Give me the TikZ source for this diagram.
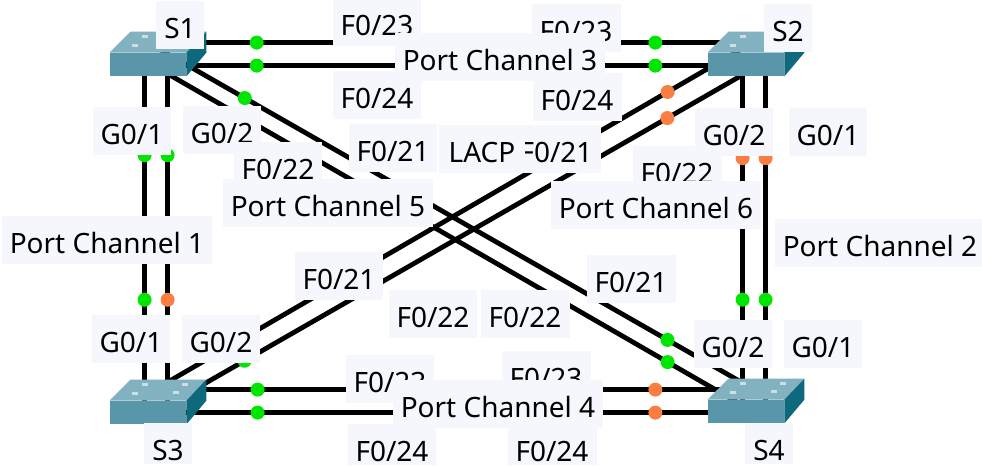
\documentclass[tikz,border=0pt]{standalone}
\usepackage{fontspec}
\setmainfont{Noto Sans}
\usepackage{tikz}
\usetikzlibrary{calc,backgrounds}
\definecolor{labelbg}{RGB}{245,247,253}
\definecolor{swfront}{RGB}{90,150,170}
\definecolor{swtop}{RGB}{130,178,192}
\definecolor{swside}{RGB}{15,105,125}
\definecolor{swmark}{RGB}{205,222,230}
\definecolor{linkup}{RGB}{0,230,0}
\definecolor{linkwait}{RGB}{250,125,65}
\tikzstyle{switch} = [rectangle, fill=swfront, minimum width=38pt,
    minimum height=11.5pt, inner sep=0pt]
\tikzstyle{portlabel} = [rectangle, fill=labelbg, inner xsep=4pt, inner ysep=1.5pt,
    text height=17pt, text depth=4pt, anchor=base, font=\fontsize{14pt}{16pt}\selectfont]
\tikzstyle{bottomlabel} = [portlabel, text depth=0.5pt]
\tikzstyle{link} = [draw, line width=2.4pt]
\tikzstyle{ledgreen} = [circle, fill=linkup, inner sep=0pt, minimum size=7pt]
\tikzstyle{ledorange} = [circle, fill=linkwait, inner sep=0pt, minimum size=7pt]

\begin{document}
\begin{tikzpicture}[x=0.5pt, y=-0.5pt]
    \useasboundingbox (0,0) rectangle (982,467);
    % Place switches
    \node [switch] (S1) at (148,64.5) {};
    \node [switch] (S2) at (746,64.5) {};
    \node [switch] (S3) at (148,412.5) {};
    \node [switch] (S4) at (746,411.5) {};
    \foreach \sw in {S1,S2,S3,S4} {
        \fill [swtop] (\sw.north west) -- (\sw.north east) -- ++(20,-21) -- ++(-76,0) -- cycle;
        \fill [swside] (\sw.north east) -- ++(20,-21) -- ++(0,21) -- (\sw.south east) -- cycle;
        \foreach \dx/\dy in {22/-6, 32/-15, 63/-7, 72/-15}
            \fill [swmark] ($(\sw.north west)+(\dx,\dy)$) rectangle ++(6,-3);
    }
    % Draw links
    \begin{pgfonlayer}{background}
    \fill [white] (0,0) rectangle (982,467);
    % port channel 1 and 2
    \path [link] ($(S1.south west)+(35,0)$) -- node [ledgreen, pos=0.243] (g1a) {}
        node [ledgreen, pos=0.689] (g1b) {} ($(S3.north west)+(35,0)$);
    \path [link] ($(S1.south west)+(58,0)$) -- node [ledgreen, pos=0.243] (g1c) {}
        node [ledorange, pos=0.689] (g1d) {} ($(S3.north west)+(58,0)$);
    \path [link] ($(S2.south west)+(35,0)$) -- node [ledorange, pos=0.253] (g2a) {}
        node [ledgreen, pos=0.691] (g2b) {} ($(S4.north west)+(35,0)$);
    \path [link] ($(S2.south west)+(58,0)$) -- node [ledorange, pos=0.253] (g2c) {}
        node [ledgreen, pos=0.691] (g2d) {} ($(S4.north west)+(58,0)$);
    % port channel 3 and 4
    \path [link] ($(S1.north west)+(40,-10)$) -- node [ledgreen, pos=0.18] (f3a) {}
        node [ledgreen, pos=0.85] (f3b) {} ($(S2.north west)+(37,-10)$);
    \path [link] ($(S1.north west)+(40,13)$) -- node [ledgreen, pos=0.18] (f3c) {}
        node [ledgreen, pos=0.85] (f3d) {} ($(S2.north west)+(37,13)$);
    \path [link] ($(S3.north west)+(40,-11)$) -- node [ledgreen, pos=0.1815] (f4a) {}
        node [ledorange, pos=0.85] (f4b) {} ($(S4.north west)+(37,-10)$);
    \path [link] ($(S3.north west)+(40,12)$) -- node [ledgreen, pos=0.1815] (f4c) {}
        node [ledorange, pos=0.85] (f4d) {} ($(S4.north west)+(37,13)$);
    % port channel 5 and 6
    \path [link] ($(S1.north west)+(40,-9)$) -- node [ledgreen, pos=0.156] (f5a) {}
        node [ledgreen, pos=0.849] (f5b) {} ($(S4.north west)+(52,-7)$);
    \path [link] ($(S1.north west)+(30,5)$) -- node [ledgreen, pos=0.175] (f5c) {}
        node [ledgreen, pos=0.88] (f5d) {} ($(S4.north west)+(32,4)$);
    \path [link] ($(S2.north west)+(32,-2.4)$) -- node [ledorange, pos=0.122] (f6a) {}
        node [ledgreen, pos=0.839] (f6b) {} ($(S3.north west)+(40,-8)$);
    \path [link] ($(S2.north west)+(52,12.5)$) -- node [ledorange, pos=0.159] (f6c) {}
        node [ledgreen, pos=0.888] (f6d) {} ($(S3.north west)+(70,-2.6)$);
    \end{pgfonlayer}
    % Switch names
    \node [portlabel] (nS1) at (180,38) {S1};
    \node [portlabel] (nS2) at (788,41) {S2};
    \node [bottomlabel] (nS3) at (168,460) {S3};
    \node [bottomlabel] (nS4) at (769,460) {S4};
    % Port labels
    \node [portlabel] (s1g1) at (132,144) {G0/1};
    \node [portlabel] (s1g2) at (222,143) {G0/2};
    \node [portlabel] (s1f22) at (278,179) {F0/22};
    \node [portlabel] (s1f21) at (393,161) {F0/21};
    \node [portlabel] (s1f23) at (377,35) {F0/23};
    \node [portlabel] (s1f24) at (377,108) {F0/24};
    \node [portlabel] (s2f23) at (576,41) {F0/23};
    \node [portlabel] (s2f24) at (577,110) {F0/24};
    \node [portlabel] (s2f21) at (556,162) {F0/21};
    \node [portlabel] (s2f22) at (677,183) {F0/22};
    \node [portlabel] (s2g2) at (734,145) {G0/2};
    \node [portlabel] (s2g1) at (828,145) {G0/1};
    \node [portlabel] (s3g1) at (131,352) {G0/1};
    \node [portlabel] (s3g2) at (221,352) {G0/2};
    \node [portlabel] (s3f21) at (339,289) {F0/21};
    \node [portlabel] (s3f22) at (433,327) {F0/22};
    \node [portlabel] (s3f23) at (390,392) {F0/23};
    \node [bottomlabel] (s3f24) at (392,461) {F0/24};
    \node [portlabel] (s4f22) at (525,327) {F0/22};
    \node [portlabel] (s4f21) at (631,292) {F0/21};
    \node [portlabel] (s4g2) at (733,357) {G0/2};
    \node [portlabel] (s4g1) at (823,357) {G0/1};
    \node [portlabel] (s4f23) at (546,388) {F0/23};
    \node [bottomlabel] (s4f24) at (552,461) {F0/24};
    % Port channel labels
    \node [portlabel] (pc1) at (107,253) {Port Channel 1};
    \node [portlabel] (pc2) at (880,256) {Port Channel 2};
    \node [portlabel] (pc3) at (500,70) {Port Channel 3};
    \node [portlabel] (pc4) at (498,417) {Port Channel 4};
    \node [portlabel] (pc5) at (328,216) {Port Channel 5};
    \node [portlabel] (pc6) at (656,218) {Port Channel 6};
    \node [portlabel, inner xsep=5pt] (lacp) at (482,162) {LACP};
\end{tikzpicture}
\end{document}
